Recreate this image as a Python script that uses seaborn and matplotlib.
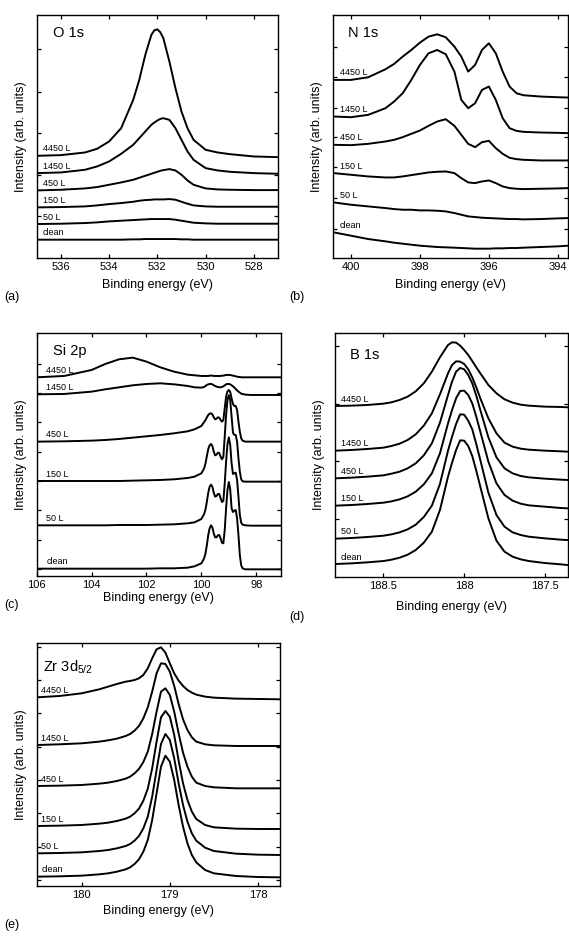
import numpy as np
import pandas as pd
import matplotlib
matplotlib.use('Agg')
import matplotlib.pyplot as plt
import seaborn as sns
from matplotlib.ticker import FuncFormatter

sns.set_theme(style='ticks')
plt.rcParams['font.family'] = ['Liberation Sans', 'DejaVu Sans']
plt.rcParams['mathtext.fontset'] = 'custom'
plt.rcParams['mathtext.rm'] = 'Liberation Sans'
plt.rcParams['text.color'] = 'black'
plt.rcParams['axes.labelcolor'] = 'black'

doses = ['clean', '50 L', '150 L', '450 L', '1450 L', '4450 L']

# O 1s
o1s_energy = [537, 536, 535, 534.5, 534, 533.5, 533, 532.75, 532.5, 532.25, 532.125, 532,
              531.875, 531.75, 531.5, 531.25, 531, 530.75, 530.5, 530, 529.5, 529, 528, 527]
o1s_clean = [55, 55, 55, 55, 55, 55, 56, 56, 57, 57, 57, 57, 57, 57, 57, 57, 56, 56, 55, 55, 55, 55, 55, 55]
o1s_50 = [102, 103, 105, 107, 110, 112, 114, 115, 116, 117, 117, 117, 117, 117, 117, 115, 112, 109, 106, 104, 103, 103, 103, 103]
o1s_150 = [152, 153, 155, 158, 162, 165, 169, 172, 174, 175, 176, 176, 176, 176, 177, 175, 169, 163, 158, 155, 154, 154, 154, 154]
o1s_450 = [203, 205, 209, 213, 220, 227, 235, 241, 247, 253, 256, 259, 262, 264, 267, 263, 250, 233, 220, 209, 206, 205, 204, 204]
o1s_1450 = [255, 257, 265, 275, 290, 313, 340, 360, 380, 400, 407, 413, 418, 420, 415, 390, 355, 320, 295, 270, 263, 259, 255, 253]
o1s_4450 = [307, 309, 317, 328, 350, 390, 475, 535, 610, 670, 684, 687, 678, 660, 590, 510, 440, 390, 355, 325, 317, 312, 305, 303]

# N 1s
n1s_energy = [400.5, 400, 399.5, 399, 398.75, 398.5, 398.25, 398, 397.75, 397.5, 397.25, 397,
              396.8, 396.6, 396.4, 396.2, 396, 395.8, 395.6, 395.4, 395.2, 395, 394.5, 394, 393.7]
n1s_clean = [77, 67, 57, 50, 46, 43, 40, 37, 35, 33, 32, 31, 30, 29, 28, 28, 28, 29, 29, 30, 30, 31, 33, 35, 37]
n1s_50 = [167, 160, 155, 150, 147, 145, 145, 143, 143, 142, 140, 135, 130, 125, 123, 121, 120, 119, 118, 117, 117, 116, 117, 119, 120]
n1s_150 = [255, 250, 245, 242, 242, 245, 249, 253, 257, 259, 260, 255, 240, 227, 225, 230, 233, 225, 215, 210, 208, 207, 208, 209, 210]
n1s_450 = [340, 339, 343, 350, 355, 363, 373, 383, 397, 410, 417, 397, 370, 343, 333, 348, 352, 330, 313, 301, 297, 295, 293, 293, 293]
n1s_1450 = [425, 423, 430, 450, 470, 495, 535, 580, 615, 625, 612, 560, 475, 450, 465, 505, 515, 475, 420, 390, 382, 379, 377, 376, 375]
n1s_4450 = [535, 535, 543, 567, 583, 605, 625, 647, 665, 672, 663, 635, 605, 560, 580, 625, 645, 615, 560, 515, 495, 489, 485, 483, 482]

# Si 2p
si2p_energy = [106, 105, 104, 103.5, 103, 102.5, 102, 101.5, 101, 100.5, 100.25, 100.0,
               99.9, 99.85, 99.8, 99.75, 99.7, 99.65, 99.6, 99.55, 99.5, 99.45, 99.4, 99.35,
               99.3, 99.25, 99.2, 99.15, 99.1, 99.05, 99.0, 98.95, 98.9, 98.85, 98.8, 98.75,
               98.7, 98.65, 98.6, 98.55, 98.5, 98.4, 98.2, 98.0, 97.5, 97.1]
si2p_clean = [22, 22, 22, 22, 22, 22, 22, 23, 23, 25, 29, 38,
              53, 68, 93, 123, 143, 152, 146, 128, 116, 116, 122, 123, 113, 100, 98, 138, 203,
              258, 282, 260, 203, 192, 196, 198, 173, 123, 63, 32, 23,
              20, 20, 20, 20, 20]
si2p_50 = [152, 152, 152, 152, 153, 153, 153, 154, 155, 158, 161, 171,
           186, 200, 223, 250, 268, 274, 268, 250, 238, 240, 246, 246, 233, 222, 225, 278, 343,
           396, 416, 393, 338, 306, 308, 310, 288, 238, 183, 160, 154,
           152, 151, 151, 151, 151]
si2p_150 = [285, 285, 285, 285, 285, 286, 287, 288, 290, 294, 298, 308,
            323, 338, 360, 381, 392, 396, 390, 373, 362, 364, 370, 369, 358, 350, 358, 418, 483,
            528, 542, 528, 478, 430, 423, 423, 403, 353, 313, 290, 284,
            283, 283, 283, 283, 283]
si2p_450 = [403, 404, 406, 408, 411, 415, 419, 423, 428, 434, 440, 450,
            462, 468, 476, 483, 487, 488, 485, 476, 470, 472, 476, 475, 468, 463, 468, 503, 538,
            554, 558, 552, 533, 516, 510, 510, 498, 463, 433, 413, 406,
            403, 403, 403, 403, 403]
si2p_1450 = [545, 546, 553, 560, 566, 572, 576, 578, 575, 570, 566, 565,
             567, 570, 573, 575, 576, 576, 575, 572, 570, 568, 567, 566, 566, 567, 569, 572, 575,
             576, 576, 575, 572, 569, 565, 561, 557, 553, 550, 547, 546,
             544, 543, 543, 543, 543]
si2p_4450 = [596, 600, 618, 636, 650, 655, 643, 626, 613, 604, 602, 600,
             600, 600, 600, 600, 601, 601, 601, 600, 600, 600, 600, 600, 600, 601, 601, 602, 603,
             603, 603, 603, 602, 601, 600, 599, 598, 597, 597, 596, 596,
             596, 596, 596, 596, 596]

# B 1s
b1s_energy = [188.8, 188.7, 188.6, 188.5, 188.45, 188.4, 188.35, 188.3, 188.25, 188.2, 188.15,
              188.1, 188.075, 188.05, 188.025, 188.0, 187.975, 187.95, 187.925, 187.9, 187.85,
              187.8, 187.75, 187.7, 187.65, 187.6, 187.5, 187.4, 187.36]
b1s_clean = [38, 40, 43, 47, 51, 57, 66, 80, 102, 135, 200, 300,
             342, 380, 409, 408, 392, 362, 318, 270,
             175, 108, 75, 60, 52, 47, 41, 37, 35]
b1s_50 = [114, 116, 119, 123, 127, 133, 142, 156, 179, 213, 278, 378,
          420, 458, 487, 486, 468, 442, 398, 350,
          252, 185, 150, 133, 125, 120, 115, 111, 110]
b1s_150 = [213, 215, 218, 222, 226, 232, 241, 255, 277, 310, 370, 460,
           500, 535, 557, 558, 545, 520, 480, 435,
           345, 280, 245, 228, 219, 214, 210, 206, 205]
b1s_450 = [295, 297, 300, 304, 309, 315, 325, 340, 364, 400, 462, 545,
           585, 615, 626, 622, 605, 580, 543, 500,
           418, 358, 325, 310, 302, 298, 294, 291, 290]
b1s_1450 = [378, 380, 383, 387, 392, 399, 410, 427, 453, 490, 547, 610,
            635, 646, 645, 638, 622, 598, 568, 535,
            475, 430, 402, 390, 384, 381, 378, 376, 375]
b1s_4450 = [512, 513, 515, 519, 523, 530, 540, 556, 580, 615, 658, 695,
            703, 702, 693, 680, 665, 647, 628, 610,
            575, 550, 532, 522, 516, 513, 510, 509, 508]

# Zr 3d5/2
zr_energy = [180.5, 180.25, 180, 179.8, 179.7, 179.6, 179.5, 179.45, 179.4, 179.35, 179.3, 179.25,
             179.2, 179.15, 179.1, 179.05, 179.0, 178.95, 178.9, 178.85, 178.8, 178.75, 178.7,
             178.6, 178.5, 178.25, 178, 177.75]
zr_clean = [28, 29, 31, 35, 38, 43, 50, 56, 66, 80, 103, 138, 198, 278, 358, 391, 373, 318, 243, 178, 128, 93, 71, 48, 38, 30, 27, 26]
zr_50 = [98, 99, 101, 105, 108, 113, 120, 126, 136, 150, 173, 208, 268, 348, 426, 456, 438, 383, 308, 243, 193, 158, 136, 115, 105, 97, 94, 93]
zr_150 = [180, 181, 183, 187, 190, 195, 202, 208, 218, 232, 256, 292, 353, 433, 506, 525, 508, 453, 376, 308, 258, 223, 201, 183, 176, 172, 171, 171]
zr_450 = [300, 301, 303, 307, 310, 315, 322, 328, 338, 351, 372, 403, 456, 523, 583, 593, 573, 523, 458, 400, 358, 328, 310, 300, 296, 293, 293, 293]
zr_1450 = [423, 425, 428, 433, 437, 442, 450, 456, 466, 480, 503, 536, 583, 638, 668, 666, 643, 600, 546, 500, 468, 446, 433, 425, 422, 420, 420, 420]
zr_4450 = [566, 570, 578, 590, 598, 606, 613, 615, 618, 623, 633, 653, 683, 710, 716, 700, 668, 638, 616, 600, 588, 580, 574, 568, 565, 562, 561, 560]

W, H = 569, 936
fig = plt.figure(figsize=(W / 100, H / 100), dpi=100)


def rect(left, top, right, bottom):
    return [left / W, 1 - bottom / H, (right - left) / W, (bottom - top) / H]


panels = [
    dict(rect=rect(36.7, 15, 278, 258), energy=o1s_energy,
         curves=[o1s_clean, o1s_50, o1s_150, o1s_450, o1s_1450, o1s_4450],
         title='O 1s', tpos=(12, 15.8), xlim=(537, 527), xticks=[536, 534, 532, 530, 528],
         ylim=(0, 730), yticks=[125, 250, 375, 500, 627], xpad=5, ldx=4.3,
         letter='(a)', lpos=(4, 297)),
    dict(rect=rect(332.7, 15, 567.5, 258), energy=n1s_energy,
         curves=[n1s_clean, n1s_50, n1s_150, n1s_450, n1s_1450, n1s_4450],
         title='N 1s', tpos=(11.2, 15.6), xlim=(400.53, 393.72), xticks=[400, 398, 396, 394],
         ylim=(0, 730), yticks=[88, 180, 273, 363, 452, 545, 635], xpad=5, ldx=5.3,
         letter='(b)', lpos=(289, 297)),
    dict(rect=rect(36.7, 333.3, 281, 576), energy=si2p_energy,
         curves=[si2p_clean, si2p_50, si2p_150, si2p_450, si2p_1450, si2p_4450],
         title='Si 2p', tpos=(11.5, 15.5), xlim=(105.98, 97.1), xticks=[106, 104, 102, 100, 98],
         ylim=(0, 728), yticks=[21, 109, 197, 285, 373, 461, 549, 637], xpad=1.5, ldx=6.8,
         letter='(c)', lpos=(4, 605)),
    dict(rect=rect(335, 333.3, 567.5, 576.7), energy=b1s_energy,
         curves=[b1s_clean, b1s_50, b1s_150, b1s_450, b1s_1450, b1s_4450],
         title='B 1s', tpos=(10.8, 18.5), xlim=(188.8, 187.36), xticks=[188.5, 188, 187.5],
         ylim=(0, 730), yticks=[173, 346, 519, 692], xpad=7, ldx=4.3,
         letter='(d)', lpos=(289, 617)),
    dict(rect=rect(36.7, 643.3, 280, 886), energy=zr_energy,
         curves=[zr_clean, zr_50, zr_150, zr_450, zr_1450, zr_4450],
         title=r'Zr 3d$_{\mathregular{5/2}}$', tpos=(4.8, 20), xlim=(180.51, 177.75),
         xticks=[180, 179, 178],
         ylim=(0, 728), yticks=[18, 118, 218, 318, 418, 518, 618, 718], xpad=3.5, ldx=3.2,
         letter='(e)', lpos=(4, 925)),
]

for p in panels:
    ax = fig.add_axes(p['rect'])
    n = len(p['energy'])
    df = pd.DataFrame({
        'energy': np.tile(p['energy'], len(doses)),
        'intensity': np.concatenate(p['curves']),
        'dose': np.repeat(doses, n),
    })
    sns.lineplot(data=df, x='energy', y='intensity', units='dose', estimator=None,
                 color='black', lw=1.4, sort=False, ax=ax)

    ax.set_xlim(*p['xlim'])
    ax.set_ylim(*p['ylim'])
    ax.set_xticks(p['xticks'])
    ax.xaxis.set_major_formatter(FuncFormatter(lambda v, pos: f'{v:g}'))
    ax.set_yticks(p['yticks'])
    ax.tick_params(direction='in', length=3, width=0.9, top=True, right=True,
                   labelleft=False, labelsize=8, pad=3, colors='black')
    for s in ax.spines.values():
        s.set_linewidth(1.0)
        s.set_color('black')
    ax.set_xlabel('Binding energy (eV)', fontsize=9, labelpad=p['xpad'])
    ax.set_ylabel('Intensity (arb. units)', fontsize=9, labelpad=7)

    # dose labels sit just above each curve's left end
    for lab, c in zip(doses, p['curves']):
        ax.annotate(lab, xy=(0, c[0]), xycoords=('axes fraction', 'data'),
                    xytext=(p['ldx'], 3.2), textcoords='offset points',
                    ha='left', va='baseline', fontsize=6.5)

    ax.annotate(p['title'], xy=(0, 1), xycoords='axes fraction',
                xytext=(p['tpos'][0], -p['tpos'][1]), textcoords='offset points',
                ha='left', va='baseline', fontsize=10.5)

    fig.text(p['lpos'][0] / W, 1 - p['lpos'][1] / H, p['letter'],
             ha='left', va='center', fontsize=9)

fig.savefig('out.png', dpi=100)
